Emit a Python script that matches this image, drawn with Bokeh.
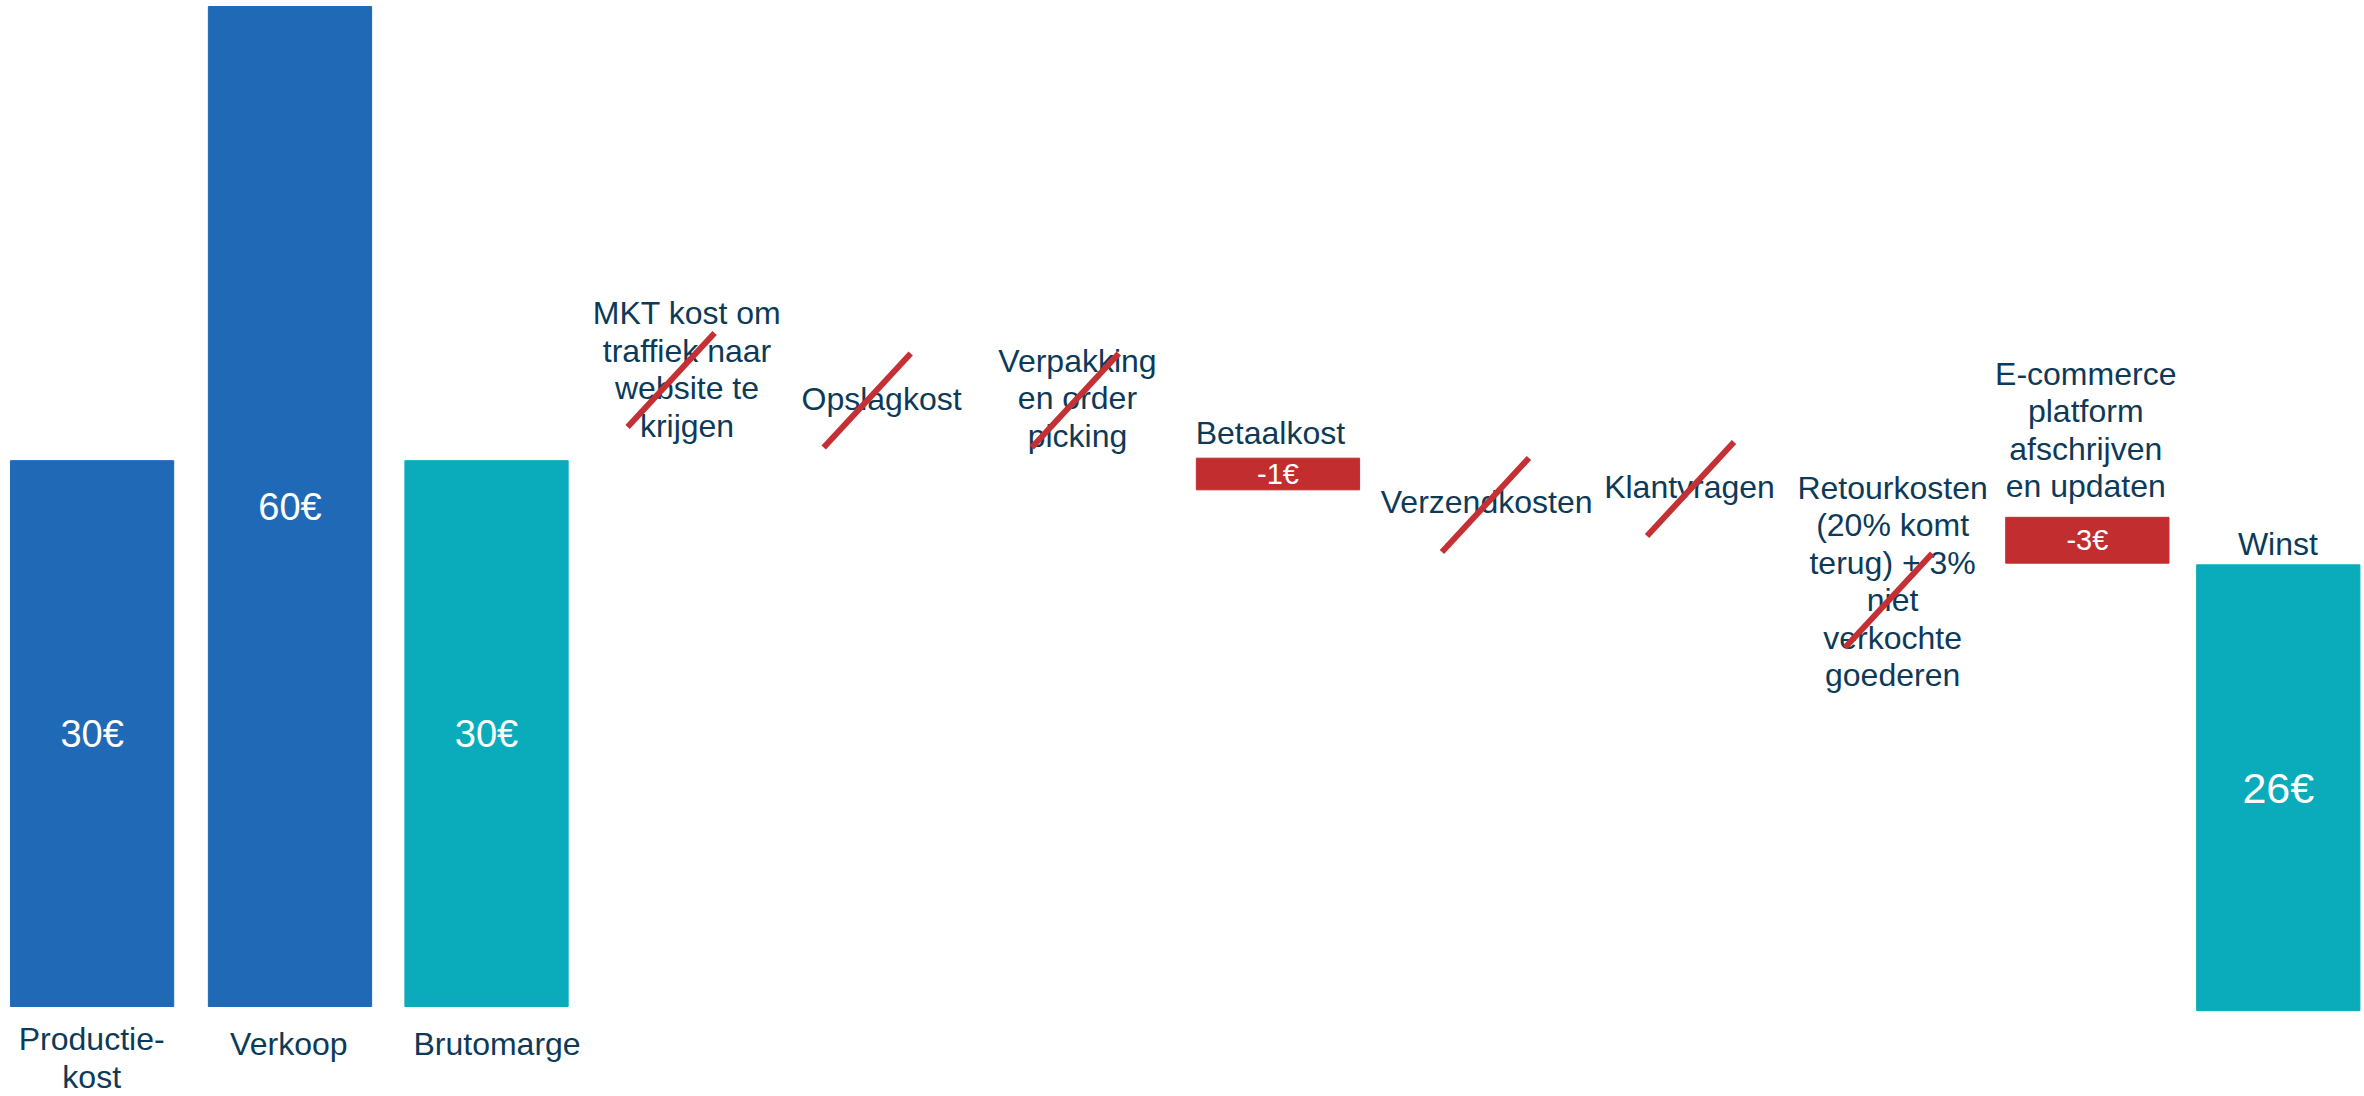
from bokeh.plotting import figure
from bokeh.models import Range1d, ColumnDataSource
from bokeh.core.properties import value
from bokeh.embed import file_html
from bokeh.resources import INLINE

# ---------------- data ----------------
categories = [
    "Productie-\nkost",
    "Verkoop",
    "Brutomarge",
    "MKT kost om\ntraffiek naar\nwebsite te\nkrijgen",
    "Opslagkost",
    "Verpakking\nen order\npicking",
    "Betaalkost",
    "Verzendkosten",
    "Klantvragen",
    "Retourkosten\n(20% komt\nterug) + 3%\nniet\nverkochte\ngoederen",
    "E-commerce\nplatform\nafschrijven\nen updaten",
    "Winst",
]

# bars that are drawn (category, amount label, drawn extent)
bar_categories = ["Productie-\nkost", "Verkoop", "Brutomarge", "Betaalkost",
                  "E-commerce\nplatform\nafschrijven\nen updaten", "Winst"]
bar_amounts = [30, 60, 30, -1, -3, 26]
bar_bottom = [0, 0, 0, 31.0, 26.6, -0.25]
bar_top = [32.75, 60, 32.75, 32.9, 29.35, 26.5]
bar_kind = ["base", "base", "result", "cost", "cost", "result"]

# crossed-out cost items (not included in the calculation)
crossed_categories = [
    "MKT kost om\ntraffiek naar\nwebsite te\nkrijgen",
    "Opslagkost",
    "Verpakking\nen order\npicking",
    "Verzendkosten",
    "Klantvragen",
    "Retourkosten\n(20% komt\nterug) + 3%\nniet\nverkochte\ngoederen",
]

# ---------------- layout / styles ----------------
TEXT = "#0d3a58"
FONT = value("Liberation Sans")
colors = {"base": "#1f69b6", "result": "#0aacbb", "cost": "#c22d30"}

# label block centres (value units) and small x nudges
label_y = [-3.1, -2.22, -2.22, 38.22, 36.46, 36.5, 34.4, 30.28, 31.18, 25.5, 34.58, 27.75]
label_dx = [0.01, 0.0, 0.046, 0.0, -0.023, -0.039, -0.07, 0.016, 0.035, 0.055, 0.025, -0.01]
bar_dx = [0.012, 0.006, -0.007, -0.032, 0.033, -0.008]
strike_y = [37.59, 36.36, 36.36, 30.09, 31.05, 24.36]
strike_dx = [-0.08, -0.095, -0.05, 0.01, 0.04, 0.035]
strike_hw, strike_hh = 0.2185, 2.82

xpos = {c: i for i, c in enumerate(categories)}

p = figure(width=2364, height=1096, output_backend="svg", toolbar_location=None,
           x_range=Range1d(-0.448, 11.425), y_range=Range1d(-5.4, 60.36),
           x_axis_location=None, y_axis_location=None, min_border=0,
           outline_line_color=None, background_fill_color="white",
           border_fill_color="white")
p.grid.visible = False

bx = [xpos[c] + d for c, d in zip(bar_categories, bar_dx)]
src = ColumnDataSource(dict(
    x=bx, bottom=bar_bottom, top=bar_top,
    color=[colors[k] for k in bar_kind],
    mid=[(b + t) / 2 for b, t in zip(bar_bottom, bar_top)],
    label=[f"{a}€" for a in bar_amounts],
    size=["29px" if k == "cost" else ("43px" if c == "Winst" else "38px")
          for k, c in zip(bar_kind, bar_categories)],
))
p.vbar(x="x", bottom="bottom", top="top", width=0.82, color="color", source=src)
p.text(x="x", y="mid", text="label", source=src, text_color="white",
       text_font=FONT, text_font_size="size", text_align="center",
       text_baseline="middle")

# category labels
lsrc = ColumnDataSource(dict(
    x=[i + d for i, d in zip(range(len(categories)), label_dx)],
    y=label_y, text=categories))
p.text(x="x", y="y", text="text", source=lsrc, text_color=TEXT, text_font=FONT,
       text_font_size="32px", text_align="center", text_baseline="middle",
       text_line_height=1.042)

# strike-through lines
sx = [xpos[c] + d for c, d in zip(crossed_categories, strike_dx)]
p.segment(x0=[x - strike_hw for x in sx], y0=[y - strike_hh for y in strike_y],
          x1=[x + strike_hw for x in sx], y1=[y + strike_hh for y in strike_y],
          line_color="#c43034", line_width=6)

open("out.html", "w").write(file_html(p, INLINE))
